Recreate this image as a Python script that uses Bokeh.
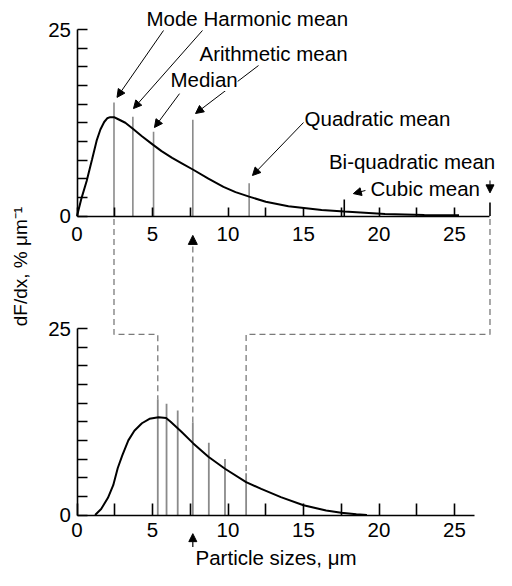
from math import pi
from bokeh.plotting import figure
from bokeh.models import Range1d, LinearAxis, FixedTicker, Label, Arrow, NormalHead
from bokeh.embed import file_html
from bokeh.resources import INLINE

# ---------------- data ----------------
# upper panel: size distribution, x in µm, dF/dx in % per µm
top_x = [0, 0.3, 0.64, 1.0, 1.3, 1.55, 1.8, 2.0, 2.2, 2.45, 2.7, 3.2, 3.7, 4.3, 5.0,
         5.6, 6.3, 7.0, 7.7, 8.7, 9.7, 10.5, 11.4, 12.5, 14.0, 16.2, 17.7, 20.4, 23.0, 25.3]
top_y = [0, 2.4, 4.7, 7.6, 10.1, 11.6, 12.6, 13.1, 13.25, 13.25, 13.0, 12.5, 11.7, 10.7, 9.6,
         8.7, 7.8, 7.0, 6.2, 5.0, 3.9, 3.2, 2.6, 1.9, 1.3, 0.8, 0.6, 0.27, 0.15, 0.1]
# lower panel: transformed distribution
bot_x = [1.2, 1.6, 2.05, 2.4, 2.7, 3.0, 3.4, 3.8, 4.3, 4.8, 5.4, 5.9, 6.2, 6.9, 7.7,
         8.7, 9.8, 11.2, 12.2, 13.5, 15.0, 16.5, 17.5, 18.5, 19.2]
bot_y = [0, 0.8, 2.3, 4.0, 6.3, 8.0, 10.0, 11.3, 12.3, 12.9, 13.1, 13.0, 12.5, 11.2, 9.6,
         7.8, 6.2, 4.4, 3.5, 2.4, 1.3, 0.6, 0.3, 0.1, 0]

mean_names = ["Mode", "Harmonic mean", "Median", "Arithmetic mean",
              "Quadratic mean", "Cubic mean", "Bi-quadratic mean"]
top_mean_x = [2.45, 3.7, 5.07, 7.67, 11.4, 17.7, 27.35]
top_mean_h = [15.2, 13.3, 11.3, 12.9, 4.4, 2.2, 1.8]
bot_line_x = [5.35, 5.93, 6.67, 7.67, 8.73, 9.8, 11.2]
bot_line_h = [15.5, 14.9, 14.0, 12.4, 9.7, 7.5, 5.6]

x_major = [0, 5, 10, 15, 20, 25]
x_minor = [2.5, 7.5, 12.5, 17.5, 22.5]
y_major = [0, 25]
y_minor = [2.5, 5, 7.5, 10, 12.5, 15, 17.5, 20, 22.5]

y_title = "dF/dx, % μm⁻¹"
x_title = "Particle sizes, μm"

# ---------------- layout ----------------
W, H = 496, 570
X0, SX = 76.5, 15.1                 # px of x=0, px per µm
YB, YT, SY = 514.5, 215.5, 7.46     # px of lower / upper zero, px per unit
OFF = (YB - YT) / SY                # upper panel offset in lower-panel units
FONT = "Liberation Sans"
FS = "20.5px"
GRAY = "#8a8a8a"
DGRAY = "#7a7a7a"
DASH = "6 4"
LEVEL = 24.2
LIFT = 0.94                         # baseline correction for labels (units)

p = figure(width=W, height=H,
           x_range=Range1d(-X0 / SX, (W - X0) / SX),
           y_range=Range1d(-(H - YB) / SY, YB / SY),
           x_axis_location=None, y_axis_location=None,
           toolbar_location=None, output_backend="svg", min_border=0,
           outline_line_color=None, background_fill_color="white",
           border_fill_color="white")
p.extra_y_ranges = {"top": Range1d(p.y_range.start - OFF, p.y_range.end - OFF)}
p.xgrid.visible = False
p.ygrid.visible = False
p.grid.grid_line_color = None


def add_axis(side, loc, bounds, major, minor, tick, standoff, **kw):
    ax = LinearAxis(fixed_location=loc, bounds=bounds,
                    ticker=FixedTicker(ticks=major, minor_ticks=minor),
                    major_tick_in=tick, major_tick_out=0,
                    minor_tick_in=tick, minor_tick_out=0,
                    axis_line_width=1.6, axis_line_color="black",
                    major_tick_line_width=1.6, minor_tick_line_width=1.6,
                    major_tick_line_color="black", minor_tick_line_color="black",
                    major_label_text_font=FONT, major_label_text_font_size=FS,
                    major_label_text_color="black", major_label_standoff=standoff,
                    **kw)
    p.add_layout(ax, side)


add_axis("below", 0, (0, 26.3), x_major, x_minor, 12, 8)
add_axis("below", OFF, (0, top_mean_x[6]), x_major, x_minor, 9, 11)
add_axis("left", 0, (0, 25), y_major, y_minor, 10, 6)
add_axis("left", 0, (0, 25), y_major, y_minor, 10, 6, y_range_name="top")

# mean marker lines
top_colors = [GRAY] * 5 + ["black"] * 2
p.segment(x0=top_mean_x, y0=[0] * len(top_mean_x), x1=top_mean_x, y1=top_mean_h,
          line_color=top_colors, line_width=1.6, y_range_name="top")
p.segment(x0=bot_line_x, y0=[0] * len(bot_line_x), x1=bot_line_x, y1=bot_line_h,
          line_color=GRAY, line_width=1.8)

# curves
p.line(top_x, top_y, line_width=2, color="black", y_range_name="top")
p.line(bot_x, bot_y, line_width=2, color="black")

# dashed connectors
for i in (0, 6):
    p.line([top_mean_x[i], top_mean_x[i], bot_line_x[i], bot_line_x[i]],
           [OFF - 0.4, LEVEL, LEVEL, bot_line_h[i]],
           line_dash=DASH, line_color=DGRAY, line_width=1.3)
p.add_layout(Arrow(end=NormalHead(size=9, fill_color="black", line_color="black"),
                   x_start=bot_line_x[3], y_start=bot_line_h[3],
                   x_end=bot_line_x[3], y_end=OFF - 2.6,
                   line_dash=DASH, line_color=DGRAY, line_width=1.3))

# annotation arrows (upper panel units)
arrow_from = [(5.73, 24.87), (8.31, 24.87), (6.79, 16.4), (12.02, 20.17),
              (15.0, 12.53), (19.1, 3.42), (27.35, 4.76)]
tip_gap = [(0.2, 0.7), (0.04, 1.1), (0.06, 0.56), (0.18, 0.84),
           (0.22, 1.03), (0.6, 0.8), (0.0, 1.3)]
for (xs, ys), (gx, gy), mx, mh in zip(arrow_from, tip_gap, top_mean_x, top_mean_h):
    p.add_layout(Arrow(end=NormalHead(size=8, fill_color="black", line_color="black"),
                       x_start=xs, y_start=ys, x_end=mx + gx, y_end=mh + gy,
                       line_color="black", line_width=1, y_range_name="top"))

ann = [("Mode Harmonic mean", 4.6, 25.54, "left"), ("Arithmetic mean", 8.11, 20.78, "left"),
       ("Median", 6.19, 17.36, "left"), ("Quadratic mean", 15.07, 12.13, "left"),
       ("Bi-quadratic mean", 27.7, 6.37, "right"), ("Cubic mean", 19.44, 2.75, "left")]
for t, x, y, al in ann:
    p.add_layout(Label(x=x, y=y + LIFT, text=t, text_font=FONT, text_font_size=FS,
                       text_color="black", text_baseline="alphabetic", text_align=al,
                       background_fill_color="white" if t == "Median" else None,
                       y_range_name="top"))

# bottom pointer and title
p.add_layout(Arrow(end=NormalHead(size=8, fill_color="black", line_color="black"),
                   x_start=bot_line_x[3], y_start=-4.3, x_end=bot_line_x[3], y_end=-2.5,
                   line_color="black", line_width=1.2))
p.add_layout(Label(x=7.85, y=-5.7, text=x_title, text_font=FONT, text_font_size=FS,
                   text_color="black", text_baseline="alphabetic"))
p.add_layout(Label(x=-3.74, y=33.3, text=y_title, angle=pi / 2, text_font=FONT,
                   text_font_size="19px", text_color="black",
                   text_align="center", text_baseline="middle"))

open("out.html", "w", encoding="utf-8").write(file_html(p, INLINE))
